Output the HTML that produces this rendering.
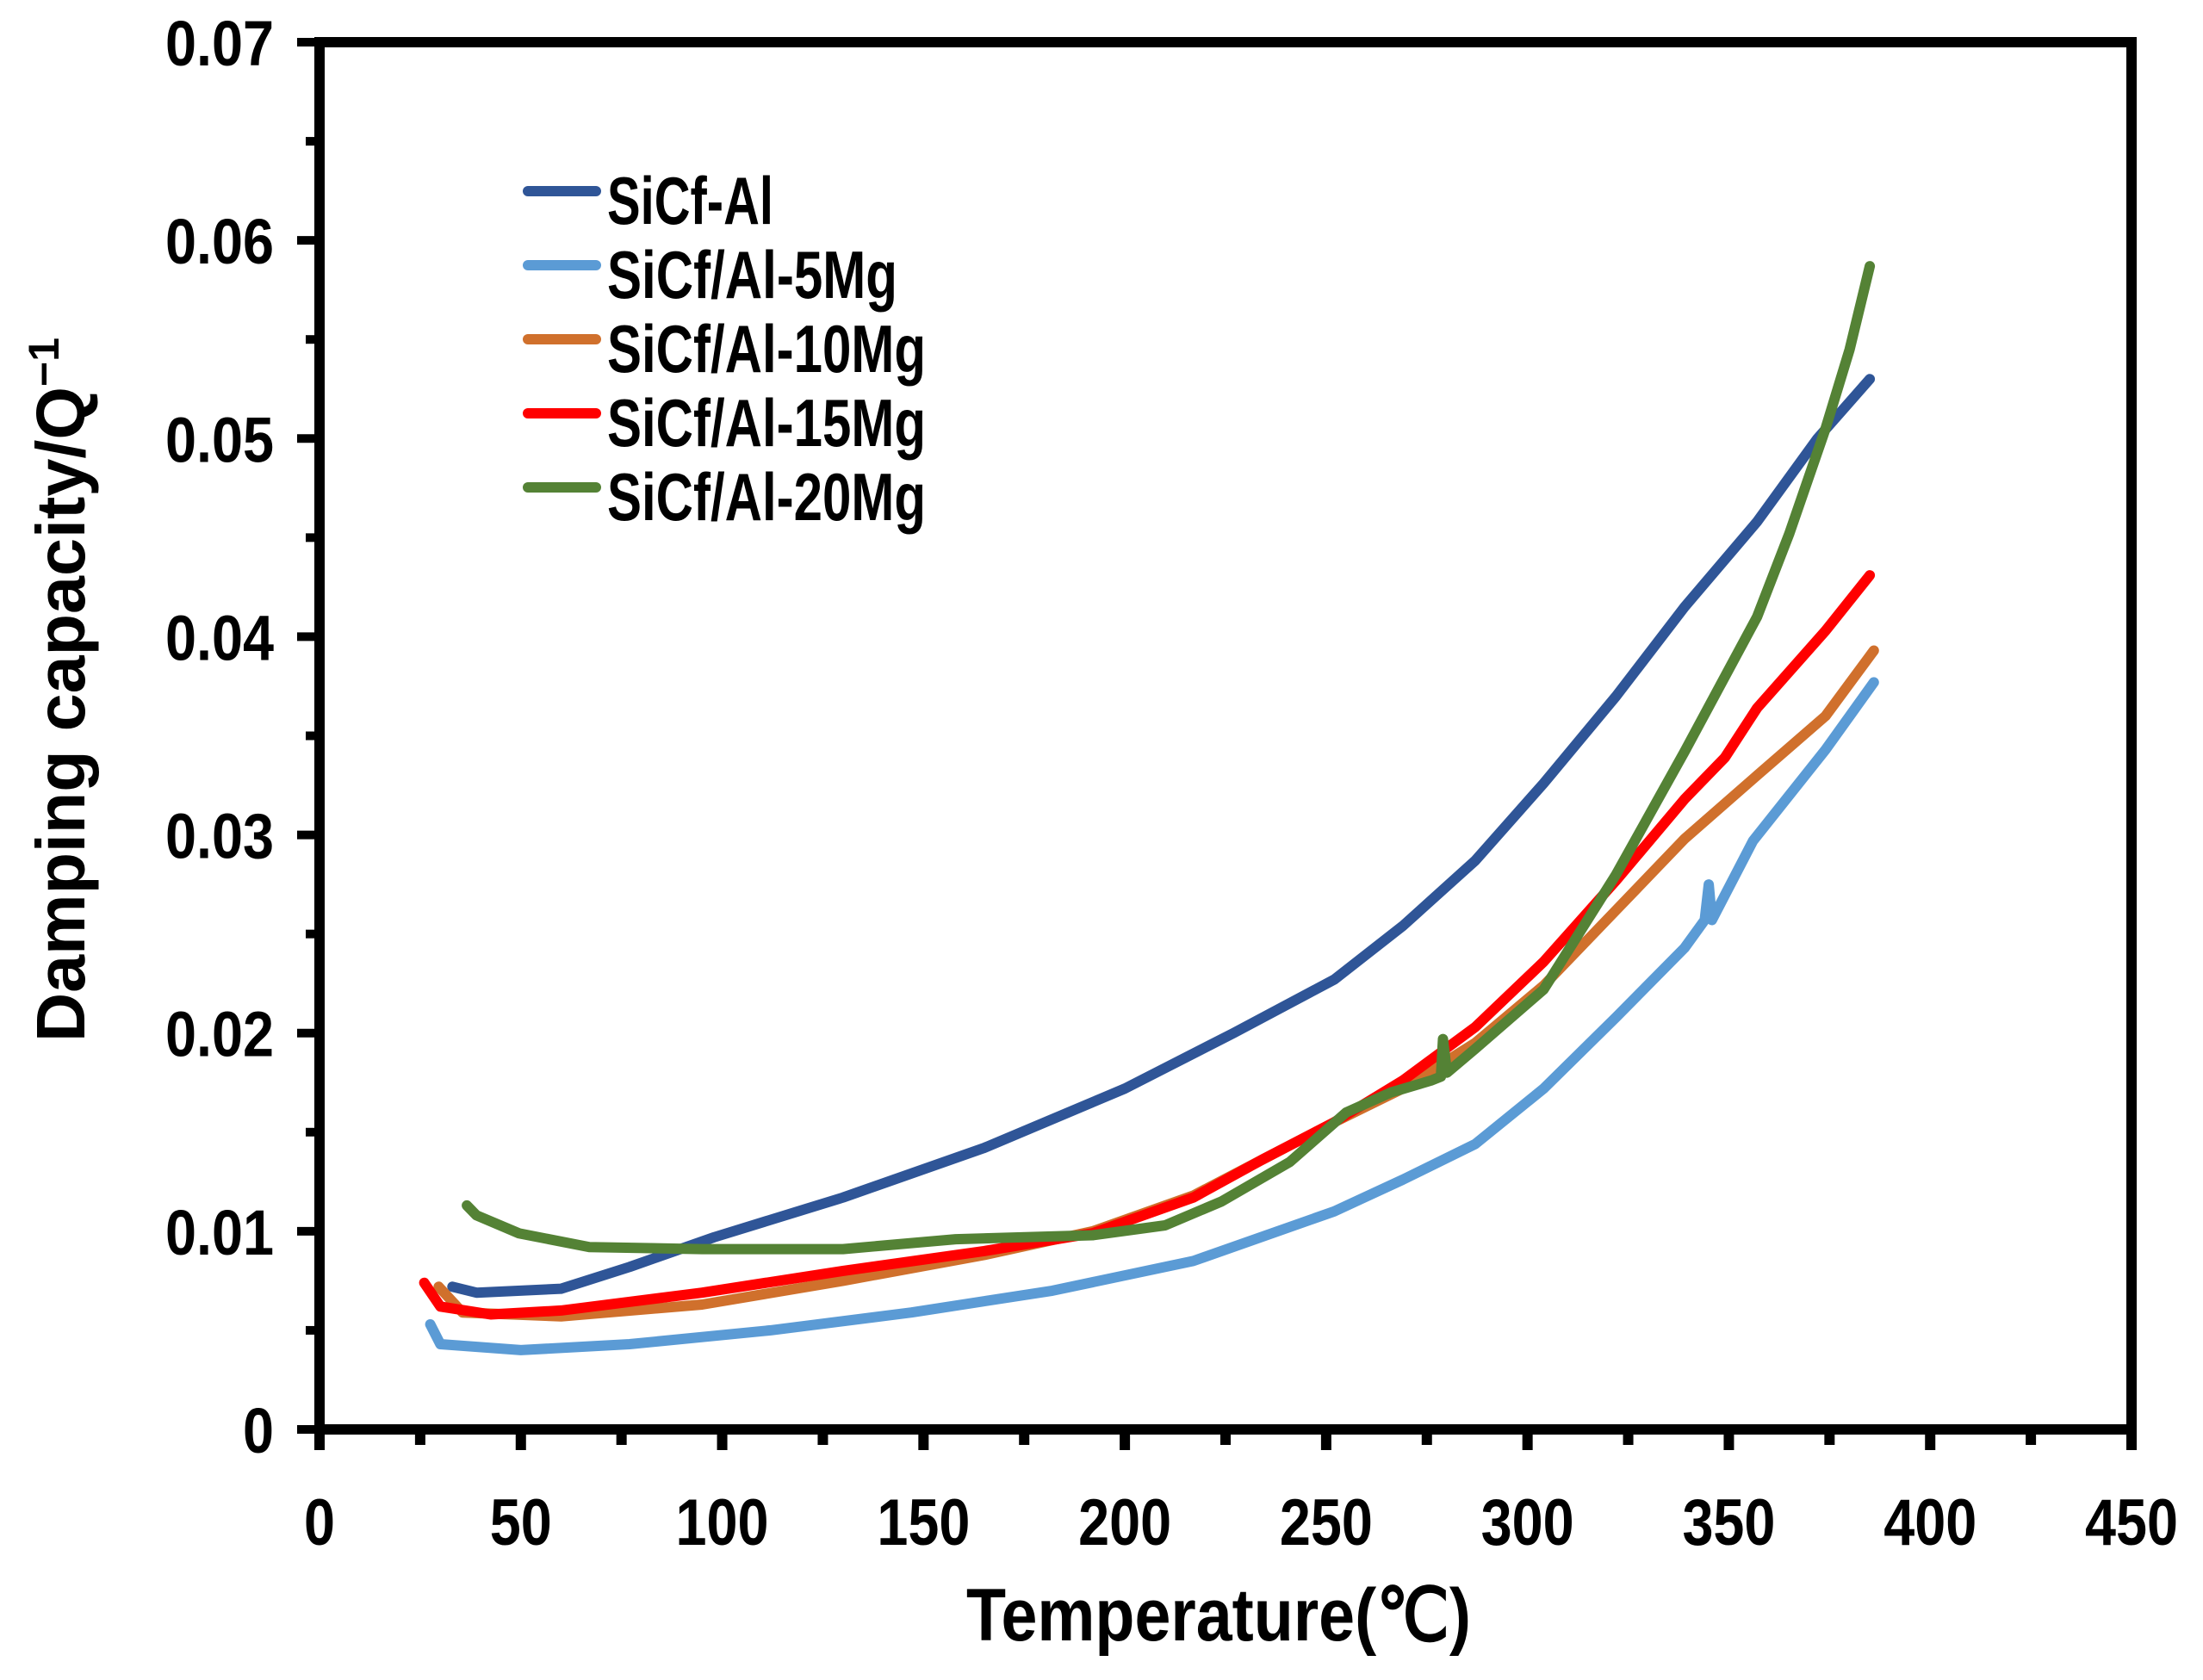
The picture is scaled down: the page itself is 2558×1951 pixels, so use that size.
<!DOCTYPE html>
<html><head><meta charset="utf-8"><style>
html,body{margin:0;padding:0;background:#fff;}
svg{display:block;}
text{font-family:"Liberation Sans Narrow","Liberation Sans",sans-serif;font-weight:bold;fill:#000;}
</style></head><body>
<svg id="chart" width="2558" height="1951" viewBox="0 0 2558 1951" xmlns="http://www.w3.org/2000/svg">
<g id="plot"></g>
</svg>
<script>
const xTicks=[0,50,100,150,200,250,300,350,400,450];
const yTicks=[0,0.01,0.02,0.03,0.04,0.05,0.06,0.07];
const yTickLabels=["0","0.01","0.02","0.03","0.04","0.05","0.06","0.07"];
const seriesNames=["SiCf-Al","SiCf/Al-5Mg","SiCf/Al-10Mg","SiCf/Al-15Mg","SiCf/Al-20Mg"];
const seriesColors=["#2F5597","#5B9BD5","#D0702C","#FF0000","#548235"];
const tAl=[33,39,60,77,98,130,165,200,227,252,269,287,304,322,339,357,372,385];
const qAl=[.0072,.0069,.0071,.0082,.0097,.0117,.0142,.0172,.0200,.0227,.0254,.0287,.0326,.0370,.0415,.0458,.0500,.0530];
const t5=[27.5,30,50,77,112,147,182,217,252,269,287,304,322,339,344,345,345.8,356,374,386];
const q5=[.0053,.0043,.004,.0043,.005,.0059,.007,.0085,.011,.0126,.0144,.0172,.0208,.0243,.0257,.0275,.0257,.0297,.0343,.0377];
const t10=[29.6,35.5,60,95,130,165,192,217,234,252,269,287,304,322,339,357,374,386];
const q10=[.0072,.0059,.0057,.0063,.0075,.0088,.0100,.0118,.0136,.0155,.0172,.0195,.0224,.0262,.0298,.0330,.0360,.0393];
const t15=[26,30,42.5,60,95,130,165,192,217,234,252,269,287,304,322,339,349,357,374,385];
const q15=[.0074,.0062,.0058,.006,.0069,.0080,.0090,.0099,.0117,.0136,.0155,.0176,.0203,.0236,.0277,.0318,.0339,.0364,.0403,.0431];
const t20=[36.6,39,49.5,67,95,130,158,192,210,224,241,255,266,276,278.5,279,280,287,304,322,339,357,365,374,380,385];
const q20=[.0113,.0108,.0099,.0092,.0091,.0091,.0096,.0098,.0103,.0115,.0135,.0160,.0170,.0176,.0178,.0197,.0180,.0192,.0222,.0280,.0342,.0410,.0452,.0505,.0545,.0587];
const seriesT=[tAl,t5,t10,t15,t20];
const seriesQ=[qAl,q5,q10,q15,q20];

const X0=371,X1=2475,Y0=1660,Y1=49;
const xs=v=>X0+(v-0)/(450-0)*(X1-X0);
const ys=v=>Y0-(v-0)/(0.07-0)*(Y0-Y1);
const NS="http://www.w3.org/2000/svg";
const svg=document.getElementById('chart');
function mk(tag,attrs,parent){const e=document.createElementNS(NS,tag);for(const k in attrs)e.setAttribute(k,attrs[k]);(parent||svg).appendChild(e);return e;}

for(let s=0;s<seriesNames.length;s++){
  const d=seriesT[s].map((t,i)=>(i?'L':'M')+xs(t).toFixed(1)+' '+ys(seriesQ[s][i]).toFixed(1)).join(' ');
  const p=mk('path',{d:d,fill:'none',stroke:seriesColors[s],'stroke-width':12,'stroke-linejoin':'round','stroke-linecap':'round'});
  
  
}
const box=mk('rect',{x:X0,y:Y1,width:X1-X0,height:Y0-Y1,fill:'none',stroke:'#000','stroke-width':12});


for(let v=0;v<=450;v+=25){
  const major=v%50===0;
  const t=mk('line',{x1:xs(v),x2:xs(v),y1:Y0,y2:Y0+(major?24:18),stroke:'#000','stroke-width':12});
  
  
}
xTicks.forEach(v=>{
  const s=String(v);
  const l=mk('text',{x:xs(v),y:1794,'font-size':76,'text-anchor':'middle',textLength:36*s.length,lengthAdjust:'spacingAndGlyphs'});
  l.textContent=s;
  
  
});
for(let i=0;i<=14;i++){
  const v=i*0.005;const major=i%2===0;
  const t=mk('line',{x1:X0-(major?26:16),x2:X0,y1:ys(v),y2:ys(v),stroke:'#000','stroke-width':10});
  
  
}
yTicks.forEach((v,i)=>{
  const s=yTickLabels[i];
  const w=s.length===1?36:126;
  const l=mk('text',{x:318-w,y:ys(v)+27,'font-size':74,textLength:w,lengthAdjust:'spacingAndGlyphs'});
  l.textContent=s;
  
  
});
const xt=mk('text',{x:1122,y:1905,'font-size':86,textLength:586,lengthAdjust:'spacingAndGlyphs'});
xt.textContent='Temperature(℃)';


const yt=mk('text',{x:0,y:0,'font-size':80,transform:'translate(98,1210) rotate(-90)'});


const t1=mk('tspan',{textLength:761,lengthAdjust:'spacingAndGlyphs'},yt);t1.textContent='Damping capacity/Q';
const t2=mk('tspan',{dy:-30,'font-size':50},yt);t2.textContent='−1';
const legW=[193,337,370,370,370];
seriesNames.forEach((n,i)=>{
  const y=222+i*86;
  const g=mk('g',{});
  
  
  mk('line',{x1:613,x2:692,y1:y,y2:y,stroke:seriesColors[i],'stroke-width':12,'stroke-linecap':'round'},g);
  const t=mk('text',{x:705,y:y+38,'font-size':78,textLength:legW[i],lengthAdjust:'spacingAndGlyphs'},g);
  t.textContent=n;
});
</script>
</body></html>
